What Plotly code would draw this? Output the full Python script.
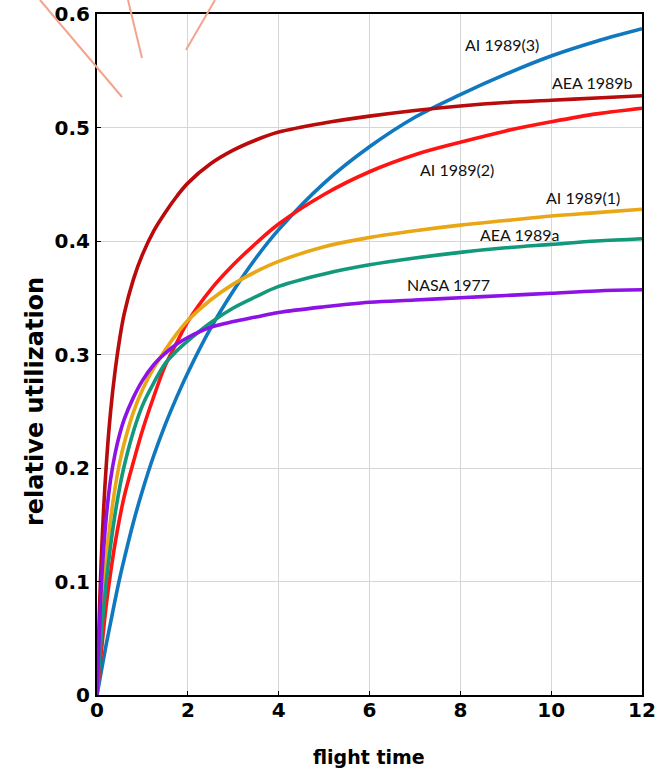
import plotly.graph_objects as go

# ---------------- data ----------------
flight_time = [0, 0.1, 0.2, 0.3, 0.4, 0.5, 0.6, 0.8, 1.0, 1.25, 1.5, 1.75, 2,
               2.5, 3, 3.5, 4, 5, 6, 7, 8, 9, 10, 11, 12]

ai_1989_3 = [0, 0.022, 0.044, 0.064, 0.084, 0.103, 0.120, 0.152, 0.180, 0.211,
             0.238, 0.262, 0.284, 0.323, 0.356, 0.385, 0.410, 0.451, 0.483,
             0.509, 0.529, 0.547, 0.563, 0.576, 0.587]
aea_1989b = [0, 0.125, 0.200, 0.250, 0.286, 0.314, 0.336, 0.366, 0.388, 0.409,
             0.425, 0.439, 0.451, 0.468, 0.480, 0.489, 0.496, 0.504, 0.510,
             0.515, 0.519, 0.522, 0.524, 0.526, 0.528]
ai_1989_2 = [0, 0.040, 0.078, 0.108, 0.134, 0.156, 0.175, 0.205, 0.233, 0.263,
             0.290, 0.310, 0.329, 0.357, 0.379, 0.398, 0.415, 0.441, 0.461,
             0.476, 0.487, 0.497, 0.505, 0.512, 0.517]
ai_1989_1 = [0, 0.075, 0.120, 0.155, 0.183, 0.205, 0.222, 0.249, 0.269, 0.288,
             0.304, 0.318, 0.330, 0.348, 0.362, 0.373, 0.382, 0.395, 0.403,
             0.409, 0.414, 0.418, 0.422, 0.425, 0.428]
aea_1989a = [0, 0.055, 0.098, 0.132, 0.160, 0.183, 0.202, 0.232, 0.255, 0.275,
             0.292, 0.303, 0.312, 0.328, 0.341, 0.351, 0.360, 0.371, 0.379,
             0.385, 0.390, 0.394, 0.397, 0.400, 0.402]
nasa_1977 = [0, 0.100, 0.155, 0.190, 0.213, 0.230, 0.243, 0.262, 0.277, 0.291,
             0.301, 0.309, 0.315, 0.324, 0.329, 0.333, 0.337, 0.342, 0.346,
             0.348, 0.350, 0.352, 0.354, 0.356, 0.357]

series_names = ["AI 1989(3)", "AEA 1989b", "AI 1989(2)", "AI 1989(1)", "AEA 1989a", "NASA 1977"]
series_values = [ai_1989_3, aea_1989b, ai_1989_2, ai_1989_1, aea_1989a, nasa_1977]
series_colors = ["#0F78BE", "#B90A0C", "#FF1414", "#E9A615", "#12987A", "#8C12E6"]

# label positions (data coords) for the in-plot series labels
label_x = [8.92, 10.9, 7.92, 10.7, 9.31, 7.73]
label_y = [0.573, 0.540, 0.463, 0.438, 0.406, 0.362]

x_ticks = [0, 2, 4, 6, 8, 10, 12]
y_ticks = [0, 0.1, 0.2, 0.3, 0.4, 0.5, 0.6]
y_tick_text = ["0", "0.1", "0.2", "0.3", "0.4", "0.5", "0.6"]

# ---------------- figure ----------------
fig = go.Figure()
for name, vals, col in zip(series_names, series_values, series_colors):
    fig.add_trace(go.Scatter(
        x=flight_time, y=vals, mode="lines", name=name,
        line=dict(color=col, width=3.6, shape="spline", smoothing=1.0),
        showlegend=False, hoverinfo="skip"))

for name, lx, ly in zip(series_names, label_x, label_y):
    fig.add_annotation(x=lx, y=ly, text=name, showarrow=False,
                       font=dict(family="Lato", size=16, color="#111111"),
                       xanchor="center", yanchor="middle")

tick_font = dict(family="DejaVu Sans", size=20, color="black", weight="bold")

fig.update_xaxes(range=[0, 12], tickvals=x_ticks, ticktext=[str(t) for t in x_ticks],
                 showgrid=True, gridcolor="#d6d6d6", gridwidth=1,
                 showline=True, linecolor="black", linewidth=2, mirror=True,
                 ticks="inside", ticklen=4, tickcolor="black",
                 zeroline=False, tickfont=tick_font, automargin=False,
                 ticklabelstandoff=-4)
fig.update_yaxes(range=[0, 0.6], tickvals=y_ticks, ticktext=y_tick_text,
                 showgrid=True, gridcolor="#d6d6d6", gridwidth=1,
                 showline=True, linecolor="black", linewidth=2, mirror=True,
                 ticks="inside", ticklen=4, tickcolor="black",
                 zeroline=False, tickfont=tick_font, ticklabelstandoff=1,
                 automargin=False)

# geometry of the plotting area (pixels)
W, H, L, R, T, B = 671, 783, 97, 642, 14, 695
pw, ph = R - L, B - T

def px(xp):
    return (xp - L) / pw

def py(yp):
    return (B - yp) / ph

# axis titles as annotations for exact placement
fig.add_annotation(xref="paper", yref="paper", x=px(369), y=py(757),
                   text="<b>flight time</b>", showarrow=False,
                   font=dict(family="DejaVu Sans", size=19, color="black"),
                   xanchor="center", yanchor="middle")
fig.add_annotation(xref="paper", yref="paper", x=px(35), y=py(402),
                   text="<b>relative utilization</b>", showarrow=False, textangle=-90,
                   font=dict(family="DejaVu Sans", size=24, color="black"),
                   xanchor="center", yanchor="middle")

# salmon decorative strokes at top-left (from the source image)
for (x0, y0, x1, y1) in [(40, 0, 122, 97), (128, 0, 142, 58), (215, 0, 186, 50)]:
    fig.add_shape(type="line", xref="paper", yref="paper",
                  x0=px(x0), y0=py(y0), x1=px(x1), y1=py(y1),
                  line=dict(color="#F2A48E", width=2))

fig.update_layout(
    width=W, height=H,
    margin=dict(l=L, r=W - R, t=T, b=H - B, autoexpand=False),
    paper_bgcolor="white", plot_bgcolor="white",
    showlegend=False,
)

fig.write_html("out.html")
